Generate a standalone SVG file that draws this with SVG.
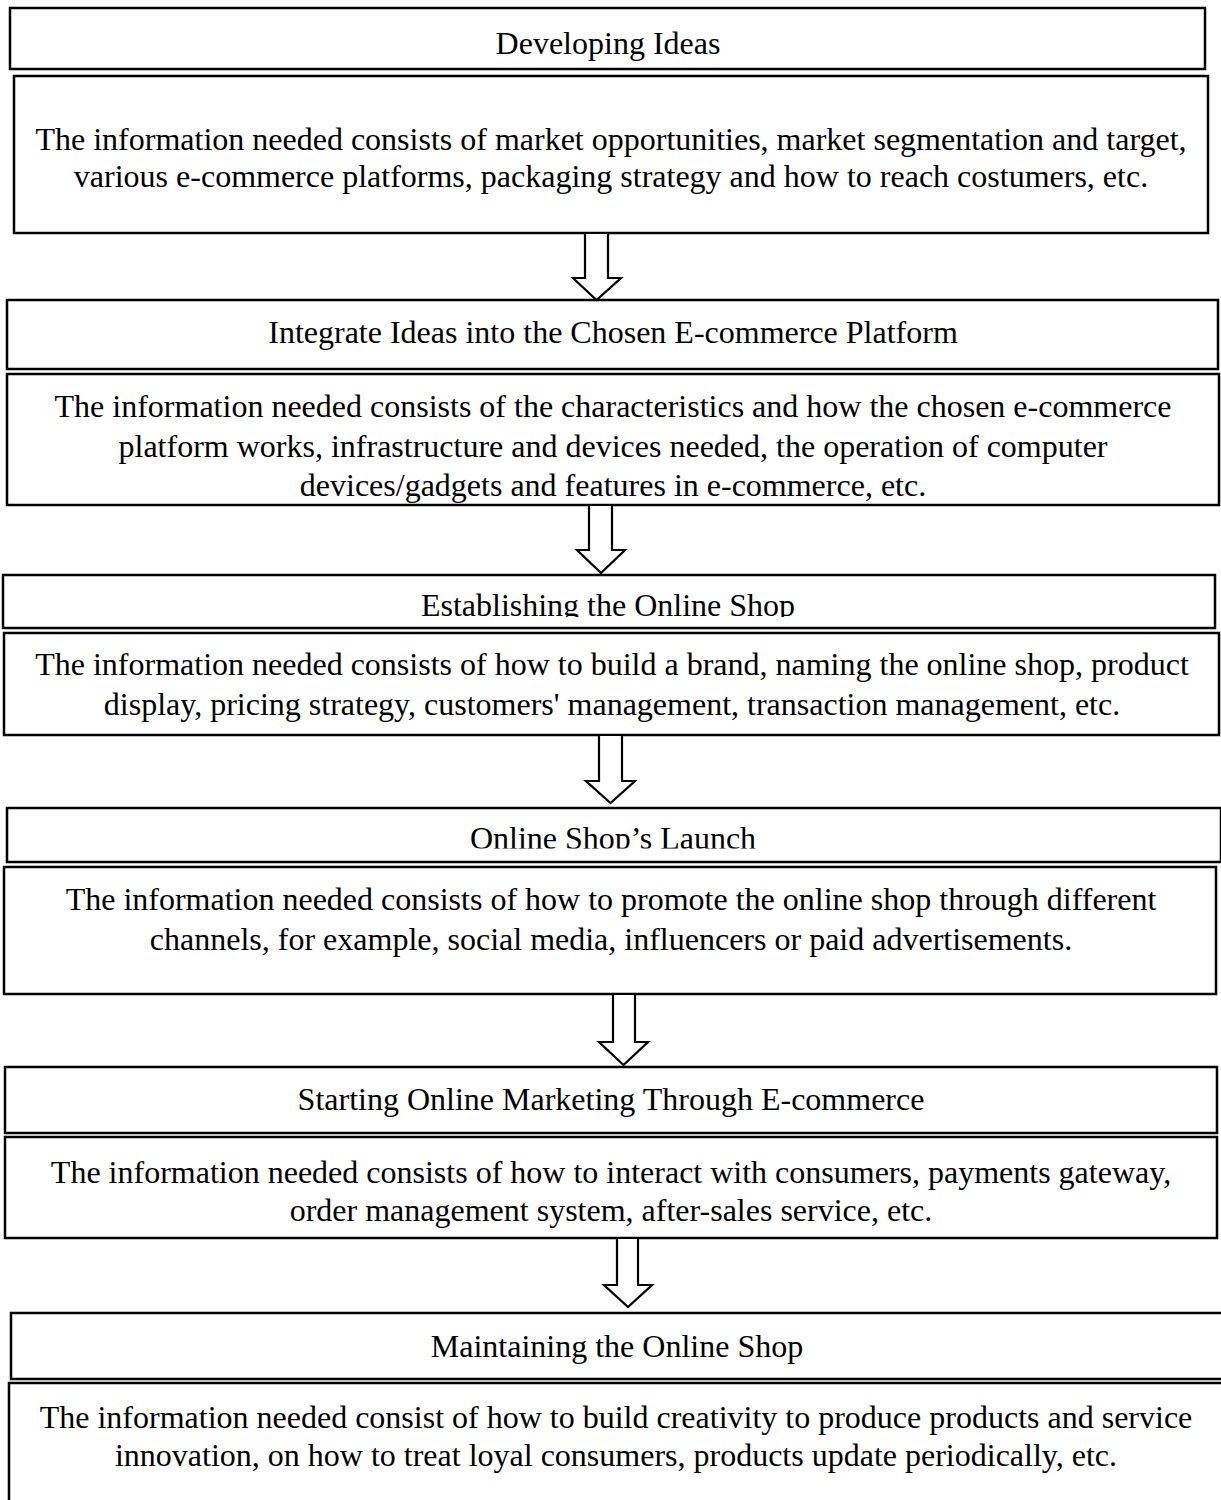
<svg xmlns="http://www.w3.org/2000/svg" width="1221" height="1500" viewBox="0 0 1221 1500">
<style>
.box{fill:#fff;stroke:#000;stroke-width:2.5}
.t{font-family:"Liberation Serif","Times New Roman",serif;font-size:32px;fill:#000;text-anchor:middle}
.arr{fill:#fff;stroke:#000;stroke-width:2.2;stroke-linejoin:miter}
</style>
<defs>
<clipPath id="c4"><rect x="0" y="374" width="1221" height="130"/></clipPath>
<clipPath id="c5"><rect x="0" y="575" width="1221" height="42"/></clipPath>
<clipPath id="c7"><rect x="0" y="808" width="1221" height="40.5"/></clipPath>
</defs>
<rect width="1221" height="1500" fill="#fff"/>
<g id="n1"><rect class="box" x="10" y="8" width="1195" height="61"/><text class="t" x="608" y="54">Developing Ideas</text></g>
<g id="n2"><rect class="box" x="14" y="76" width="1194" height="157"/><text class="t" x="611" y="150">The information needed consists of market opportunities, market segmentation and target,</text><text class="t" x="611" y="187">various e-commerce platforms, packaging strategy and how to reach costumers, etc.</text></g>
<g id="n3"><rect class="box" x="7" y="300" width="1211" height="69"/><text class="t" x="613" y="343">Integrate Ideas into the Chosen E-commerce Platform</text></g>
<g id="n4"><rect class="box" x="7" y="374" width="1212" height="131"/><g clip-path="url(#c4)"><text class="t" x="613" y="417">The information needed consists of the characteristics and how the chosen e-commerce</text><text class="t" x="613" y="457">platform works, infrastructure and devices needed, the operation of computer</text><text class="t" x="613" y="496">devices/gadgets and features in e-commerce, etc.</text></g></g>
<g id="n5"><rect class="box" x="3" y="575" width="1212" height="53"/><g clip-path="url(#c5)"><text class="t" x="608" y="616">Establishing the Online Shop</text></g></g>
<g id="n6"><rect class="box" x="4" y="633" width="1215" height="102"/><text class="t" x="612" y="675">The information needed consists of how to build a brand, naming the online shop, product</text><text class="t" x="612" y="715">display, pricing strategy, customers' management, transaction management, etc.</text></g>
<g id="n7"><rect class="box" x="7" y="808" width="1214" height="54"/><g clip-path="url(#c7)"><text class="t" x="613" y="849">Online Shop’s Launch</text></g></g>
<g id="n8"><rect class="box" x="4" y="867" width="1212" height="127"/><text class="t" x="611" y="910">The information needed consists of how to promote the online shop through different</text><text class="t" x="611" y="950">channels, for example, social media, influencers or paid advertisements.</text></g>
<g id="n9"><rect class="box" x="5" y="1067" width="1212" height="66"/><text class="t" x="611" y="1110">Starting Online Marketing Through E-commerce</text></g>
<g id="n10"><rect class="box" x="5" y="1137" width="1212" height="101"/><text class="t" x="611" y="1183">The information needed consists of how to interact with consumers, payments gateway,</text><text class="t" x="611" y="1221">order management system, after-sales service, etc.</text></g>
<g id="n11"><rect class="box" x="11" y="1313" width="1212" height="66"/><text class="t" x="617" y="1357">Maintaining the Online Shop</text></g>
<g id="n12"><rect class="box" x="9" y="1383" width="1214" height="130"/><text class="t" x="616" y="1428">The information needed consist of how to build creativity to produce products and service</text><text class="t" x="616" y="1466">innovation, on how to treat loyal consumers, products update periodically, etc.</text></g>
<g id="connectors">
<polygon class="arr" points="585,233 608,233 608,278 621,278 596.5,300 573,278 585,278"/>
<polygon class="arr" points="589,505 612,505 612,550 625,550 601,573 577,550 589,550"/>
<polygon class="arr" points="599,735 622,735 622,781 635,781 610.5,803 586,781 599,781"/>
<polygon class="arr" points="613,994 635,994 635,1042 648,1042 623.5,1065 599,1042 613,1042"/>
<polygon class="arr" points="617,1238 638,1238 638,1285 652,1285 628,1307 604,1285 617,1285"/>
</g>
</svg>
